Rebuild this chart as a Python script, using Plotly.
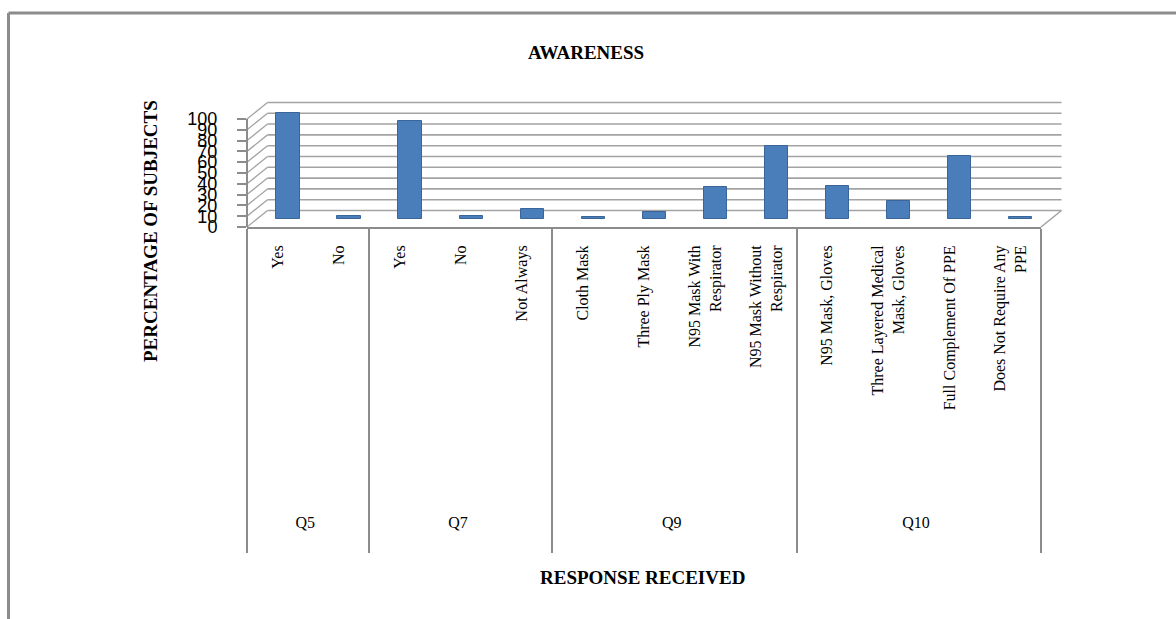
import plotly.graph_objects as go

# ---------------- data ----------------
groups = ["Q5", "Q5", "Q7", "Q7", "Q7", "Q9", "Q9", "Q9", "Q9", "Q10", "Q10", "Q10", "Q10"]
responses = ["Yes", "No", "Yes", "No", "Not Always", "Cloth Mask", "Three Ply Mask",
             "N95 Mask With<br>Respirator", "N95 Mask Without<br>Respirator",
             "N95 Mask, Gloves", "Three Layered Medical<br>Mask, Gloves",
             "Full Complement Of PPE", "Does Not Require Any<br>PPE"]
values = [98, 2, 90, 2, 9, 1, 6, 29, 67, 30, 16, 58, 1]
y_ticks = [0, 10, 20, 30, 40, 50, 60, 70, 80, 90, 100]

title_text = "AWARENESS"
y_title = "PERCENTAGE OF SUBJECTS"
x_title = "RESPONSE RECEIVED"

# ---------------- layout geometry ----------------
W, H = 1176, 619
ML, MR, MT, MB = 247, 135, 102, 392
PW = W - ML - MR
PH = H - MT - MB
Y_RANGE = [0, 115.7]
X_RANGE = [-0.5, len(values) - 0.5]
BAR_SHIFT = 7.87          # bars sit half-way into the 3D depth
DEPTH_X = 20.5 / PW       # back wall offset (paper units)
DEPTH_Y = 16.5 / PH
GRID = "#A3A3A3"
AXIS = "#8C8C8C"


def yp(v):
    return (v - Y_RANGE[0]) / (Y_RANGE[1] - Y_RANGE[0])


def px_x(px):
    return (px - ML) / PW


def px_y(py):
    return (H - MB - py) / PH


# spacing helpers: pad the longest label so the group row sits lower, like the original,
# and give the group labels an empty second line so the dividers run further down
labels = list(responses)
longest = max(range(len(labels)), key=lambda i: max(len(s) for s in labels[i].split("<br>")))
labels[longest] = "\u00a0" * 24 + labels[longest]
group_labels = [g + "<br>\u00a0" for g in groups]

fig = go.Figure()
fig.add_trace(go.Bar(
    x=[group_labels, labels], y=values, yaxis="y2",
    width=0.38, offset=-0.02,
    marker=dict(color="#4A7EBB", line=dict(color="#3A6599", width=1)),
    showlegend=False,
))
# invisible twin on the primary value axis so that axis (ticks / labels) is drawn
fig.add_trace(go.Scatter(
    x=[group_labels, labels], y=values, yaxis="y", mode="markers",
    marker=dict(opacity=0), hoverinfo="skip", showlegend=False,
))

shapes = []
# back wall gridlines and side wall diagonals
for v in y_ticks:
    shapes.append(dict(type="line", xref="paper", yref="paper", layer="below",
                       x0=DEPTH_X, x1=1 + DEPTH_X, y0=yp(v) + DEPTH_Y, y1=yp(v) + DEPTH_Y,
                       line=dict(color=GRID, width=1.6)))
    shapes.append(dict(type="line", xref="paper", yref="paper", layer="below",
                       x0=0, x1=DEPTH_X, y0=yp(v), y1=yp(v) + DEPTH_Y,
                       line=dict(color=GRID, width=1.3)))
# floor right edge
shapes.append(dict(type="line", xref="paper", yref="paper", layer="below",
                   x0=1, x1=1 + DEPTH_X, y0=yp(0), y1=yp(0) + DEPTH_Y,
                   line=dict(color=GRID, width=1.6)))
# vertical value axis line
shapes.append(dict(type="line", xref="paper", yref="paper",
                   x0=0, x1=0, y0=yp(0), y1=yp(y_ticks[-1]),
                   line=dict(color=AXIS, width=2)))
# outer chart border (left + top)
shapes.append(dict(type="line", xref="paper", yref="paper",
                   x0=px_x(8.5), x1=px_x(8.5), y0=px_y(13), y1=px_y(H + 5),
                   line=dict(color=AXIS, width=3)))
shapes.append(dict(type="line", xref="paper", yref="paper",
                   x0=px_x(8.5), x1=px_x(W + 5), y0=px_y(13), y1=px_y(13),
                   line=dict(color=AXIS, width=3)))

serif = "Liberation Serif, Times New Roman, serif"
annotations = [
    dict(text="<b>%s</b>" % title_text, xref="paper", yref="paper",
         x=px_x(586), y=px_y(52), showarrow=False, xanchor="center", yanchor="middle",
         font=dict(family=serif, size=19, color="black")),
    dict(text="<b>%s</b>" % y_title, xref="paper", yref="paper",
         x=px_x(150), y=px_y(231), showarrow=False, textangle=-90,
         xanchor="center", yanchor="middle",
         font=dict(family=serif, size=19, color="black")),
    dict(text="<b>%s</b>" % x_title, xref="paper", yref="paper",
         x=px_x(642), y=px_y(577), showarrow=False, xanchor="center", yanchor="middle",
         font=dict(family=serif, size=19, color="black")),
]

fig.update_layout(
    width=W, height=H,
    margin=dict(l=ML, r=MR, t=MT, b=MB, autoexpand=False),
    paper_bgcolor="white", plot_bgcolor="rgba(0,0,0,0)",
    bargap=0,
    xaxis=dict(type="multicategory", range=X_RANGE, autorange=False,
               showline=True, linecolor=AXIS, linewidth=2,
               showdividers=True, dividercolor=AXIS, dividerwidth=2,
               tickangle=-90, ticks="", showgrid=False, ticklabelstandoff=10,
               tickfont=dict(family=serif, size=16, color="black")),
    yaxis=dict(range=Y_RANGE, tickvals=y_ticks, showgrid=False, zeroline=False,
               showline=False, ticks="outside", ticklen=9, tickwidth=2,
               tickcolor=AXIS, ticklabelstandoff=16,
               tickfont=dict(family="Liberation Sans, Arial, sans-serif", size=18, color="black")),
    yaxis2=dict(overlaying="y", range=[Y_RANGE[0] - BAR_SHIFT, Y_RANGE[1] - BAR_SHIFT],
                visible=False, showgrid=False, zeroline=False),
    shapes=shapes,
    annotations=annotations,
)

fig.write_html("out.html")
